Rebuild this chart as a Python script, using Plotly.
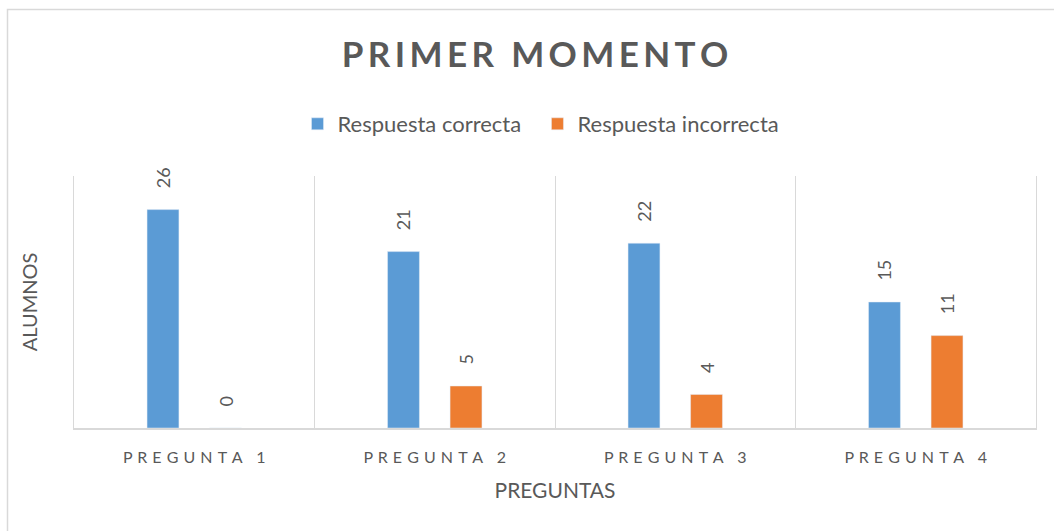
import plotly.graph_objects as go

categories = ["PREGUNTA 1", "PREGUNTA 2", "PREGUNTA 3", "PREGUNTA 4"]
series_names = ["Respuesta correcta", "Respuesta incorrecta"]
correct = [26, 21, 22, 15]
incorrect = [0, 5, 4, 11]

colors = ["#5B9BD5", "#ED7D31"]
txt = "#595959"
grid = "#D9D9D9"
FONT = "Lato"


def spaced(s, sep="\u2009"):
    return sep.join(list(s))


cat_labels = [spaced(c, "\u00a0\u200a") for c in categories]

fig = go.Figure()
for i, (name, vals, col) in enumerate(zip(series_names, [correct, incorrect], colors)):
    fig.add_trace(go.Bar(
        x=cat_labels, y=vals,
        name=name + ("\u00a0" * 2 if i == 0 else ""),
        marker_color=col,
        text=vals, texttemplate="\u00a0\u00a0\u00a0\u00a0%{y}",
        textposition="outside", textangle=-90, constraintext="none",
        cliponaxis=False,
        textfont=dict(family=FONT, size=18, color=txt),
    ))

L, R, T, B = 74, 18, 176, 103
W, H = 1054, 531
pw, ph = W - L - R, H - T - B


def px_x(p):
    return (p - L) / pw


def px_y(p):
    return (H - B - p) / ph


fig.update_layout(
    width=W, height=H,
    margin=dict(l=L, r=R, t=T, b=B),
    paper_bgcolor="white", plot_bgcolor="white",
    barmode="group", bargap=0.48, bargroupgap=0.49,
    font=dict(family=FONT, color=txt),
    title=dict(text="<b>" + spaced("PRIMER MOMENTO", "\u2009") + "</b>",
               x=535 / W, xref="container", xanchor="center",
               y=1 - 55 / H, yanchor="middle",
               font=dict(family=FONT, size=35, color=txt)),
    legend=dict(orientation="h", x=px_x(541), xanchor="center",
                y=px_y(124), yanchor="middle",
                font=dict(family=FONT, size=22, color=txt),
                itemwidth=30, traceorder="normal"),
    showlegend=True,
    xaxis=dict(type="category", tickson="boundaries", showgrid=True,
               gridcolor=grid, gridwidth=1, showline=True, linecolor=grid,
               linewidth=1.5, ticks="", ticklabelstandoff=14,
               tickfont=dict(family=FONT, size=16, color=txt),
               title=dict(text="PREGUNTAS", standoff=18,
                          font=dict(family=FONT, size=21, color=txt))),
    yaxis=dict(range=[0, 30], showgrid=False, showticklabels=False,
               zeroline=False, showline=True, mirror=True, linecolor=grid,
               linewidth=1, ticks="",
               title=dict(text="ALUMNOS", standoff=30,
                          font=dict(family=FONT, size=20, color=txt))),
    shapes=[dict(type="rect", xref="paper", yref="paper",
                 x0=px_x(7.5), x1=px_x(1070), y0=px_y(545), y1=px_y(9.5),
                 line=dict(color=grid, width=1.5), fillcolor="rgba(0,0,0,0)",
                 layer="below")],
)

fig.write_html("out.html", config={"displayModeBar": False},
               post_script="document.body.style.margin='0';")
